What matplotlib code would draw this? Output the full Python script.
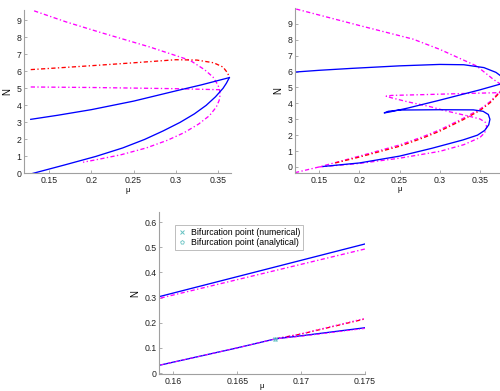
import matplotlib
matplotlib.use("Agg")
import matplotlib.pyplot as plt
import numpy as np

plt.rcParams['font.family'] = ['Liberation Sans', 'DejaVu Sans']

# ---------------- Top-left panel data ----------------
tl_blue_upper_mu = [0.128, 0.16, 0.20, 0.25, 0.30, 0.33, 0.3635]
tl_blue_upper_N = [3.18, 3.42, 3.75, 4.25, 4.85, 5.2, 5.63]
tl_blue_lower_mu = [0.130, 0.168, 0.205, 0.237, 0.263, 0.285, 0.305, 0.322, 0.336, 0.347,
                    0.356, 0.360, 0.3635]
tl_blue_lower_N = [0.0, 0.5, 1.0, 1.5, 2.0, 2.5, 3.0, 3.5, 4.0, 4.5, 5.0, 5.3, 5.63]
tl_red_mu = [0.128, 0.16, 0.20, 0.25, 0.30, 0.325, 0.345, 0.356, 0.3615, 0.3635]
tl_red_N = [6.1, 6.2, 6.33, 6.5, 6.68, 6.66, 6.5, 6.25, 5.9, 5.63]
tl_mag_h_mu = [0.128, 0.20, 0.30, 0.352]
tl_mag_h_N = [5.08, 5.05, 4.98, 4.92]
tl_mag_fold_mu = [0.132, 0.17, 0.2095, 0.269, 0.3167, 0.334, 0.344, 0.350, 0.352, 0.3525, 0.3515,
                  0.348, 0.34, 0.327, 0.31, 0.29, 0.265, 0.235, 0.21, 0.19]
tl_mag_fold_N = [9.55, 8.9, 8.3, 7.43, 6.65, 6.1, 5.67, 5.2, 4.9, 4.6, 4.3,
                 3.9, 3.4, 2.9, 2.4, 1.95, 1.5, 1.1, 0.85, 0.66]

# ---------------- Top-right panel data ----------------
tr_blue_mu = [0.12, 0.15, 0.19, 0.25, 0.30, 0.33, 0.355, 0.37, 0.378, 0.381, 0.378,
              0.35, 0.30, 0.26, 0.237, 0.231, 0.236, 0.25, 0.30, 0.342, 0.354, 0.3605,
              0.3625, 0.361, 0.356, 0.347, 0.329, 0.29, 0.25, 0.20, 0.155]
tr_blue_N = [5.97, 6.08, 6.2, 6.36, 6.45, 6.43, 6.25, 5.95, 5.65, 5.4, 5.25,
             4.85, 4.2, 3.7, 3.45, 3.4, 3.5, 3.58, 3.6, 3.59, 3.5, 3.3,
             3.0, 2.65, 2.3, 2.0, 1.7, 1.17, 0.68, 0.25, 0.03]
tr_red_mu = [0.17, 0.20, 0.25, 0.279, 0.30, 0.329, 0.35, 0.3625, 0.375, 0.38]
tr_red_N = [0.25, 0.62, 1.3, 1.82, 2.25, 2.97, 3.55, 4.03, 4.7, 5.1]
tr_mag_a_mu = [0.12, 0.15, 0.20, 0.25, 0.279, 0.30, 0.329, 0.35, 0.3625, 0.375, 0.38,
               0.376, 0.367, 0.346, 0.30, 0.267, 0.20, 0.121]
tr_mag_a_N = [-0.36, 0.0, 0.68, 1.38, 1.9, 2.33, 3.05, 3.63, 4.1, 4.75, 5.0,
              5.2, 5.5, 6.35, 7.4, 8.04, 8.9, 9.94]
tr_mag_c_mu = [0.15, 0.20, 0.25, 0.30, 0.33, 0.35, 0.356, 0.3585, 0.357, 0.35, 0.3375,
               0.31, 0.2875, 0.26, 0.24, 0.2334, 0.24, 0.28, 0.33, 0.38]
tr_mag_c_N = [0.0, 0.22, 0.55, 0.98, 1.4, 1.85, 2.15, 2.5, 2.8, 3.02, 3.18,
              3.5, 3.8, 4.1, 4.35, 4.45, 4.5, 4.55, 4.62, 4.68]

# ---------------- Bottom panel data ----------------
bt_blue_upper_mu = [0.159, 0.175]
bt_blue_upper_N = [0.305, 0.513]
bt_mag_upper_mu = [0.159, 0.175]
bt_mag_upper_N = [0.298, 0.493]
bt_blue_lower_mu = [0.159, 0.165, 0.168, 0.170, 0.175]
bt_blue_lower_N = [0.032, 0.10, 0.136, 0.148, 0.180]
bt_mag_lower_mu = [0.159, 0.165, 0.168, 0.170, 0.175]
bt_mag_lower_N = [0.032, 0.10, 0.136, 0.146, 0.177]
bt_red_mu = [0.168, 0.170, 0.175]
bt_red_N = [0.136, 0.155, 0.215]
bt_mag_red_mu = [0.168, 0.170, 0.175]
bt_mag_red_N = [0.136, 0.156, 0.217]
bif_num_mu = [0.16796]
bif_num_N = [0.137]
bif_ana_mu = [0.16796]
bif_ana_N = [0.137]
legend_labels = ['Bifurcation point (numerical)', 'Bifurcation point (analytical)']

W, H = 500, 391
fig = plt.figure(figsize=(W / 100, H / 100), dpi=100)

def ax_at(x0, y0, x1, y1):
    # pixel box -> figure fraction
    return fig.add_axes([x0 / W, 1 - y1 / H, (x1 - x0) / W, (y1 - y0) / H])

SP = '#a0a0a0'
FS = 6.3

def style(ax):
    for s in ['top', 'right']:
        ax.spines[s].set_visible(False)
    for s in ['left', 'bottom']:
        ax.spines[s].set_color(SP)
        ax.spines[s].set_linewidth(0.8)
    ax.tick_params(direction='in', length=2.5, width=0.6, color=SP,
                   labelsize=FS, pad=2, labelcolor='#222222')

BLUE = '#0000ff'
RED = '#ff0000'
MAG = '#ff00ff'
LW = 0.95
DD = (0, (3.2, 1.8, 1.0, 1.8))
DOT = (0, (1.0, 1.6))

# Top-left
ax1 = ax_at(24, 10, 230.6, 173.5)
style(ax1)
ax1.plot(tl_mag_fold_mu, tl_mag_fold_N, color=MAG, ls=DD, lw=LW)
ax1.plot(tl_mag_h_mu, tl_mag_h_N, color=MAG, ls=DD, lw=LW)
ax1.plot(tl_red_mu, tl_red_N, color=RED, ls=DD, lw=LW)
ax1.plot(tl_blue_upper_mu, tl_blue_upper_N, color=BLUE, lw=LW)
ax1.plot(tl_blue_lower_mu, tl_blue_lower_N, color=BLUE, lw=LW)
ax1.set_xlim(0.12, 0.365)
ax1.set_ylim(0, 9.6)
ax1.set_xticks([0.15, 0.2, 0.25, 0.3, 0.35])
ax1.set_xticklabels(['0.15', '0.2', '0.25', '0.3', '0.35'])
ax1.set_yticks(range(10))
ax1.set_xlabel('μ', fontsize=5.5, labelpad=1)
ax1.set_ylabel('N', fontsize=7, labelpad=3)

# Top-right
ax2 = ax_at(295, 8, 504, 173.3)
style(ax2)
ax2.plot(tr_mag_a_mu, tr_mag_a_N, color=MAG, ls=DD, lw=LW)
ax2.plot(tr_mag_c_mu, tr_mag_c_N, color=MAG, ls=DD, lw=LW)
ax2.plot(tr_red_mu, tr_red_N, color=RED, ls=DD, lw=LW)
ax2.plot(tr_blue_mu, tr_blue_N, color=BLUE, lw=LW)
ax2.set_xlim(0.12, 0.38)
ax2.set_ylim(-0.4, 10)
ax2.set_xticks([0.15, 0.2, 0.25, 0.3, 0.35])
ax2.set_xticklabels(['0.15', '0.2', '0.25', '0.3', '0.35'])
ax2.set_yticks(range(10))
ax2.set_xlabel('μ', fontsize=5.5, labelpad=1)
ax2.set_ylabel('N', fontsize=7, labelpad=3)

# Bottom
ax3 = ax_at(159.3, 212, 365, 374.3)
style(ax3)
ax3.plot(bt_mag_upper_mu, bt_mag_upper_N, color=MAG, ls=DD, lw=LW)
ax3.plot(bt_blue_upper_mu, bt_blue_upper_N, color=BLUE, lw=LW)
ax3.plot(bt_red_mu, bt_red_N, color=RED, ls=DD, lw=LW)
ax3.plot(bt_mag_red_mu, bt_mag_red_N, color=MAG, ls=DOT, lw=LW)
ax3.plot(bt_blue_lower_mu, bt_blue_lower_N, color=BLUE, lw=LW)
ax3.plot(bt_mag_lower_mu, bt_mag_lower_N, color=MAG, ls=DD, lw=0.7)
h1, = ax3.plot(bif_num_mu, bif_num_N, ls='none', marker='x', ms=2.5, mew=0.7, color='#66c2c2')
h2, = ax3.plot(bif_ana_mu, bif_ana_N, ls='none', marker='p', ms=2.8, mew=0.6,
               markerfacecolor='none', markeredgecolor='#66c2c2')
ax3.set_xlim(0.1589, 0.175)
ax3.set_ylim(-0.005, 0.64)
ax3.set_xticks([0.16, 0.165, 0.17, 0.175])
ax3.set_xticklabels(['0.16', '0.165', '0.17', '0.175'])
ax3.set_yticks([0, 0.1, 0.2, 0.3, 0.4, 0.5, 0.6])
ax3.set_yticklabels(['0', '0.1', '0.2', '0.3', '0.4', '0.5', '0.6'])
ax3.set_xlabel('μ', fontsize=5.5, va='top')
ax3.xaxis.set_label_coords(0.5, -(382.5 - 374.3) / (374.3 - 212))
ax3.set_ylabel('N', fontsize=7, labelpad=3)
leg = ax3.legend([h1, h2], legend_labels, loc='upper left',
                 bbox_to_anchor=((175 - 159.3) / (365 - 159.3), (374.3 - 225) / (374.3 - 212)),
                 fontsize=FS, frameon=True, fancybox=False, borderpad=0.3,
                 handlelength=1.0, handletextpad=0.5, labelspacing=0.15, borderaxespad=0)
leg.get_frame().set_edgecolor('#a0a0a0')
leg.get_frame().set_linewidth(0.6)

fig.savefig('out.png', dpi=100)
